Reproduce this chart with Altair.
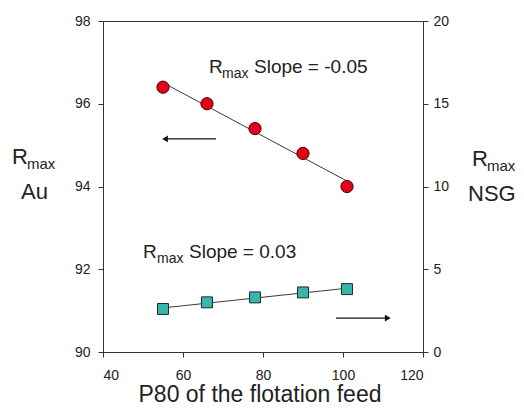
import altair as alt
import pandas as pd

# ---- data ----
p80 = [55, 66, 78, 90, 101]
rmax_au = [96.4, 96.0, 95.4, 94.8, 94.0]
rmax_nsg = [2.6, 3.0, 3.3, 3.6, 3.8]

x_ticks = [40, 60, 80, 100, 120]
au_ticks = [90, 92, 94, 96, 98]
nsg_ticks = [0, 5, 10, 15, 20]

df = pd.DataFrame({"p80": p80, "au": rmax_au, "nsg": rmax_nsg})
one = pd.DataFrame({"k": [0]})

FONT = "Liberation Sans"
INK = "#222222"
W, H = 320, 331

x_enc = alt.X(
    "p80:Q",
    scale=alt.Scale(domain=[40, 120], nice=False, zero=False),
    axis=alt.Axis(values=x_ticks, title=None, tickSize=5, labelPadding=11,
                  grid=False, format="d"),
)
y_au = alt.Y(
    "au:Q",
    scale=alt.Scale(domain=[90, 98], nice=False, zero=False),
    axis=alt.Axis(values=au_ticks, orient="left", title=None, tickSize=5,
                  labelPadding=8, grid=False, format="d"),
)
y_nsg = alt.Y(
    "nsg:Q",
    scale=alt.Scale(domain=[0, 20], nice=False, zero=False),
    axis=alt.Axis(values=nsg_ticks, orient="right", title=None, tickSize=5,
                  labelPadding=5, grid=False, format="d"),
)

base = alt.Chart(df)


def txt(text, size, **kw):
    return alt.Chart(one).mark_text(text=text, fontSize=size, font=FONT,
                                    color=INK, align="left",
                                    baseline="alphabetic", **kw)


# ---- left (Au) group ----
au_line = base.transform_regression("p80", "au").mark_line(
    color="#3a3a3a", strokeWidth=1).encode(x=x_enc, y=y_au)
au_pts = base.mark_point(shape="circle", filled=True, fill="#e2001a",
                         stroke="#4a0000", strokeWidth=1, size=150,
                         opacity=1).encode(x=x_enc, y=y_au)

ax1, ay1 = 66.5, 96.75
lab1 = [
    txt("R", 19).encode(x=alt.datum(ax1), y=alt.datum(ay1)),
    txt("max", 14, dx=13, dy=5).encode(x=alt.datum(ax1), y=alt.datum(ay1)),
    txt("Slope = -0.05", 19, dx=45).encode(x=alt.datum(ax1), y=alt.datum(ay1)),
]

arrow_l = alt.Chart(one).mark_rule(color="#111", strokeWidth=1.2).encode(
    x=alt.datum(68.25), x2=alt.datum(55.5), y=alt.datum(95.15))
arrow_l_head = alt.Chart(one).mark_point(shape="triangle-left", filled=True,
                                         color="#111", size=45,
                                         opacity=1).encode(
    x=alt.datum(55.5), y=alt.datum(95.15))

# axis titles drawn as text (subscripts)
left_title = [
    txt("R", 22).encode(x=alt.value(-91), y=alt.value(143)),
    txt("max", 15).encode(x=alt.value(-76), y=alt.value(148)),
    txt("Au", 22).encode(x=alt.value(-82), y=alt.value(178)),
]
right_title = [
    txt("R", 22).encode(x=alt.value(369), y=alt.value(145)),
    txt("max", 15).encode(x=alt.value(384), y=alt.value(150)),
    txt("NSG", 22).encode(x=alt.value(365), y=alt.value(180)),
]
x_title = alt.Chart(one).mark_text(
    text="P80 of the flotation feed", fontSize=23, font=FONT, color=INK,
    align="center", baseline="alphabetic").encode(
    x=alt.value(157), y=alt.value(381))

left_group = alt.layer(au_line, au_pts, *lab1, arrow_l, arrow_l_head,
                       *left_title, *right_title, x_title)

# ---- right (NSG) group ----
nsg_line = base.transform_regression("p80", "nsg").mark_line(
    color="#3a3a3a", strokeWidth=1).encode(x=x_enc, y=y_nsg)
nsg_pts = base.mark_point(shape="square", filled=True, fill="#38b6ac",
                          stroke="#1c2b2a", strokeWidth=1, size=120,
                          opacity=1).encode(x=x_enc, y=y_nsg)

bx1, by1 = 50.0, 5.68
lab2 = [
    txt("R", 19).encode(x=alt.datum(bx1), y=alt.datum(by1)),
    txt("max", 14, dx=14, dy=5).encode(x=alt.datum(bx1), y=alt.datum(by1)),
    txt("Slope = 0.03", 19, dx=46).encode(x=alt.datum(bx1), y=alt.datum(by1)),
]
arrow_r = alt.Chart(one).mark_rule(color="#111", strokeWidth=1.2).encode(
    x=alt.datum(98.25), x2=alt.datum(111.2), y=alt.datum(2.05))
arrow_r_head = alt.Chart(one).mark_point(shape="triangle-right", filled=True,
                                         color="#111", size=45,
                                         opacity=1).encode(
    x=alt.datum(111.2), y=alt.datum(2.05))

right_group = alt.layer(nsg_line, nsg_pts, *lab2, arrow_r, arrow_r_head)

chart = alt.layer(left_group, right_group).resolve_scale(
    y="independent"
).properties(
    width=W, height=H,
    padding={"left": 95, "top": 13, "right": 93, "bottom": 51},
    autosize=alt.AutoSizeParams(type="none"),
).configure_view(
    stroke="#333333", strokeWidth=1
).configure_axis(
    domainColor="#333333", tickColor="#333333", labelColor=INK,
    labelFont=FONT, labelFontSize=14, domainWidth=1, tickWidth=1,
)

chart.save("out.html", embed_options={"renderer": "svg", "actions": False})
